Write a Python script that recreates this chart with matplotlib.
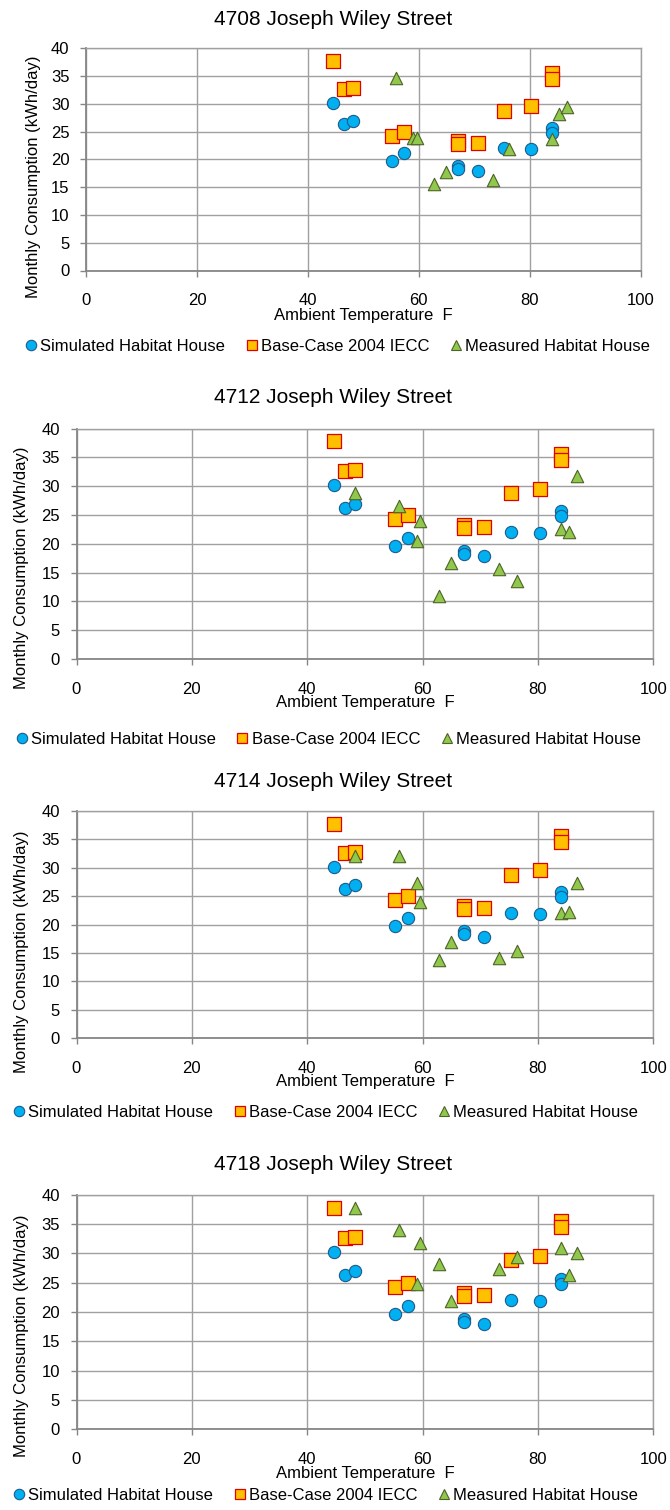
import matplotlib
matplotlib.use("Agg")
from matplotlib import pyplot as plt
from matplotlib.lines import Line2D

plt.rcParams['font.family'] = ['Liberation Sans', 'DejaVu Sans']

# ---- data ----
houses = ["4708 Joseph Wiley Street", "4712 Joseph Wiley Street",
          "4714 Joseph Wiley Street", "4718 Joseph Wiley Street"]

sim_temp = [44.6, 46.6, 48.2, 55.2, 57.4, 67.1, 67.1, 70.7, 75.4, 80.3, 84.0, 84.0]
sim_kwh = [30.2, 26.3, 27.0, 19.7, 21.1, 18.8, 18.3, 17.9, 22.1, 21.8, 25.7, 24.8]

base_temp = [44.6, 46.6, 48.2, 55.2, 57.4, 67.1, 67.1, 70.7, 75.4, 80.3, 84.0, 84.0]
base_kwh = [37.8, 32.6, 32.8, 24.3, 25.0, 23.3, 22.7, 22.9, 28.8, 29.6, 35.6, 34.5]

meas_temp_4708 = [55.9, 59.0, 59.6, 62.8, 64.9, 73.3, 76.3, 84.0, 85.3, 86.7]
meas_kwh_4708 = [34.7, 23.8, 23.8, 15.5, 17.7, 16.3, 21.8, 23.6, 28.2, 29.4]

meas_temp_4712 = [48.2, 55.9, 59.0, 59.6, 62.8, 64.9, 73.3, 76.3, 84.0, 85.3, 86.7]
meas_kwh_4712 = [28.9, 26.5, 20.5, 23.9, 11.0, 16.6, 15.6, 13.5, 22.5, 22.0, 31.8]

meas_temp_4714 = [48.2, 55.9, 59.0, 59.6, 62.8, 64.9, 73.3, 76.3, 84.0, 85.3, 86.7]
meas_kwh_4714 = [32.1, 32.1, 27.3, 24.0, 13.7, 17.0, 14.2, 15.4, 22.0, 22.3, 27.3]

meas_temp_4718 = [48.2, 55.9, 59.0, 59.6, 62.8, 64.9, 73.3, 76.3, 84.0, 85.3, 86.7]
meas_kwh_4718 = [37.8, 34.0, 24.7, 31.7, 28.2, 21.9, 27.4, 29.4, 30.9, 26.3, 30.1]

meas_temp = [meas_temp_4708, meas_temp_4712, meas_temp_4714, meas_temp_4718]
meas_kwh = [meas_kwh_4708, meas_kwh_4712, meas_kwh_4714, meas_kwh_4718]

series_names = ["Simulated Habitat House", "Base-Case 2004 IECC", "Measured Habitat House"]

# ---- layout in pixels ----
W, H = 670, 1510
# left, right, top, bottom of each plot area
boxes = [(86, 640.7, 48.3, 270.5),
         (76.5, 653.3, 428.7, 659),
         (76.5, 653.3, 811, 1038.3),
         (76.5, 653.3, 1194.7, 1429.3)]
title_base = [25, 403.3, 786.7, 1170]
ylab_pos = [(34, 177), (21.7, 568), (21.7, 952), (21.7, 1336)]
xlab_base = [320, 706.7, 1086, 1477.7]
leg_pos = [(26, 346.3), (16.7, 739.6), (14, 1112.3), (14, 1495)]

c_sim, e_sim = '#00b0f0', '#1f5a8c'
c_base, e_base = '#ffc000', '#e00000'
c_meas, e_meas = '#8fc84a', '#4f6228'


def fx(px):
    return px / W


def fy(py):
    return 1 - py / H


fig = plt.figure(figsize=(6.7, 15.1), dpi=100)

for i in range(4):
    l, r, t, b = boxes[i]
    ax = fig.add_axes([fx(l), fy(b), (r - l) / W, (b - t) / H])
    ax.set_axisbelow(True)
    ax.scatter(sim_temp, sim_kwh, s=78, marker='o', c=c_sim, edgecolors=e_sim, linewidths=0.8, zorder=3)
    ax.scatter(base_temp, base_kwh, s=88, marker='s', c=c_base, edgecolors=e_base, linewidths=0.9, zorder=3)
    ax.scatter(meas_temp[i], meas_kwh[i], s=80, marker='^', c=c_meas, edgecolors=e_meas, linewidths=0.8, zorder=3)

    ax.set_xlim(0, 100)
    ax.set_ylim(0, 40)
    ax.set_xticks(range(0, 101, 20))
    ax.set_yticks(range(0, 41, 5))
    ax.grid(True, color='#a0a0a0', lw=1.0)
    for side in ['left', 'bottom']:
        ax.spines[side].set_color('#868686')
        ax.spines[side].set_linewidth(1.3)
    for side in ['top', 'right']:
        ax.spines[side].set_color('#a0a0a0')
        ax.spines[side].set_linewidth(1.0)
    ax.tick_params(axis='both', direction='out', length=4, width=1, color='#868686', labelsize=12)
    ax.tick_params(axis='y', pad=8)
    ax.tick_params(axis='x', pad=12.5)

    fig.text(0.497, fy(title_base[i]), houses[i], fontsize=15, ha='center', va='baseline')
    fig.text(fx(ylab_pos[i][0]), fy(ylab_pos[i][1]), "Monthly Consumption (kWh/day)",
             fontsize=12, rotation=90, ha='center', va='center')
    fig.text(fx((l + r) / 2), fy(xlab_base[i]), "Ambient Temperature  F",
             fontsize=12, ha='center', va='baseline')

    handles = [Line2D([], [], ls='none', marker='o', ms=7.5, mfc=c_sim, mec=e_sim, mew=0.8),
               Line2D([], [], ls='none', marker='s', ms=7.5, mfc=c_base, mec=e_base, mew=0.9),
               Line2D([], [], ls='none', marker='^', ms=7.5, mfc=c_meas, mec=e_meas, mew=0.8)]
    fig.legend(handles, series_names, loc='center left',
               bbox_to_anchor=(fx(leg_pos[i][0]), fy(leg_pos[i][1])),
               ncol=3, frameon=False, borderpad=0, borderaxespad=0,
               handlelength=0.6, handletextpad=0.25, columnspacing=1.3, fontsize=12)

fig.savefig("out.png", dpi=100)
